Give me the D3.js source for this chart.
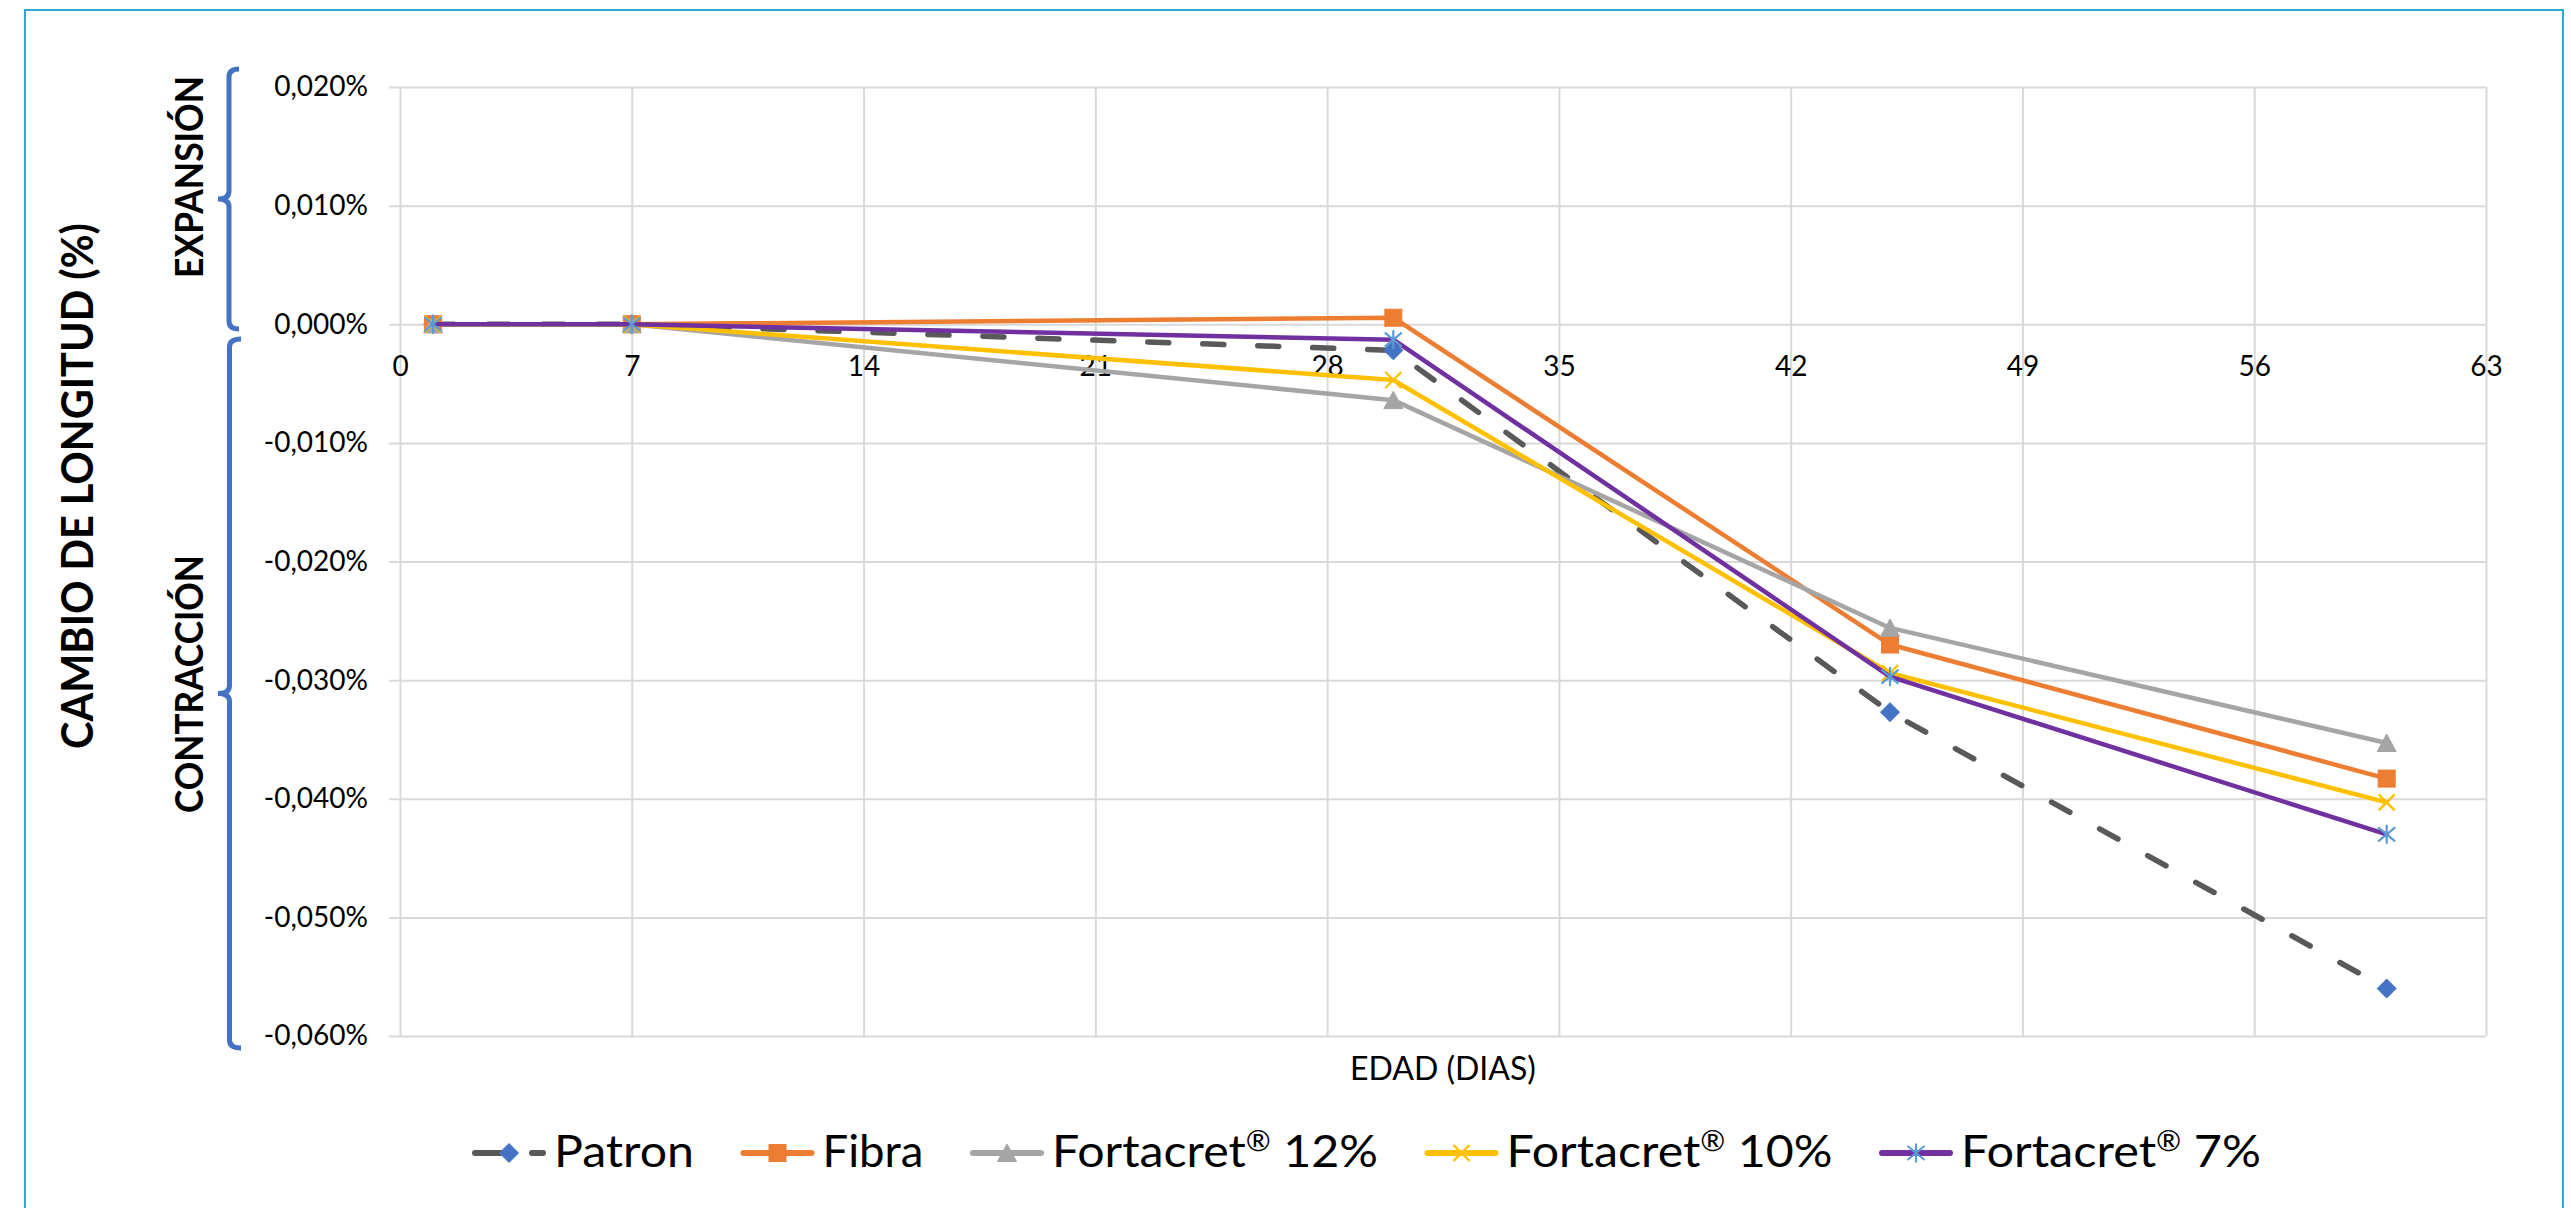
<!DOCTYPE html>
<html>
<head>
<meta charset="utf-8">
<script src="https://cdn.jsdelivr.net/npm/d3@7"></script>
<style>
  html, body { margin: 0; padding: 0; background: #fff; }
  svg { display: block; }
  text { font-family: Lato, "Open Sans", sans-serif; fill: #000; }
</style>
</head>
<body>
<svg id="chart" width="2571" height="1208"></svg>
<script>
// ---- data ----
const days = [1, 7, 30, 45, 60];
const seriesNames = ["Patron", "Fibra", "Fortacret® 12%", "Fortacret® 10%", "Fortacret® 7%"];
const patron = [0, 0, -0.0022, -0.0327, -0.0560];
const fibra = [0, 0, 0.00055, -0.0270, -0.0383];
const fortacret12 = [0, 0, -0.0064, -0.0256, -0.0353];
const fortacret10 = [0, 0, -0.0047, -0.0294, -0.0403];
const fortacret7 = [0, 0, -0.0013, -0.0297, -0.0430];
const xTicks = [0, 7, 14, 21, 28, 35, 42, 49, 56, 63];
const yTicks = [0.02, 0.01, 0, -0.01, -0.02, -0.03, -0.04, -0.05, -0.06];
const xTitle = "EDAD (DIAS)";
const yTitle = "CAMBIO DE LONGITUD (%)";
const zoneLabels = ["EXPANSIÓN", "CONTRACCIÓN"];

// ---- appearance ----
const seriesValues = [patron, fibra, fortacret12, fortacret10, fortacret7];
const styles = [
  { line: "#595959", width: 5.5, dash: "21,34", marker: "diamond", mColor: "#4472c4" },
  { line: "#ed7d31", width: 4.5, dash: null, marker: "square", mColor: "#ed7d31" },
  { line: "#a5a5a5", width: 4.5, dash: null, marker: "triangle", mColor: "#a5a5a5" },
  { line: "#ffc000", width: 4.5, dash: null, marker: "x", mColor: "#ffc000" },
  { line: "#7030a0", width: 4.5, dash: null, marker: "star", mColor: "#5b9bd5" }
];

const svg = d3.select("#chart");
const plotL = 400, plotR = 2486, plotT = 87, plotB = 1036;

// outer frame
svg.append("rect")
  .attr("x", 25).attr("y", 10).attr("width", 2538).attr("height", 1260)
  .attr("fill", "none").attr("stroke", "#2fa8cf").attr("stroke-width", 2);

const x = d3.scaleLinear().domain([0, 63]).range([plotL, plotR]);
const y = d3.scaleLinear().domain([-0.06, 0.02]).range([plotB, plotT]);

const locale = d3.formatLocale({ decimal: ",", thousands: ".", grouping: [3], currency: ["", ""], minus: "-" });
const fmt = locale.format(".3f");

// horizontal gridlines (with outside tick stubs)
svg.append("g")
  .attr("transform", `translate(${plotL - 11},0)`)
  .call(d3.axisLeft(y).tickValues(yTicks).tickSize(-(plotR - plotL + 11)).tickFormat(""))
  .call(g => g.select(".domain").remove())
  .call(g => g.selectAll("line").attr("stroke", "#d9d9d9").attr("stroke-width", 2));

// vertical gridlines
svg.append("g")
  .attr("transform", `translate(0,${plotB})`)
  .call(d3.axisBottom(x).tickValues(xTicks).tickSize(-(plotB - plotT)).tickFormat(""))
  .call(g => g.select(".domain").remove())
  .call(g => g.selectAll("line").attr("stroke", "#d9d9d9").attr("stroke-width", 2));

// y tick labels
svg.append("g")
  .attr("transform", `translate(368,0)`)
  .call(d3.axisLeft(y).tickValues(yTicks).tickSize(0).tickPadding(0).tickFormat(d => fmt(d) + "%"))
  .call(g => g.select(".domain").remove())
  .call(g => g.selectAll("text").attr("font-size", 28).attr("font-family", "Lato, sans-serif").attr("fill", "#000"));

// x tick labels, hung below the zero line
svg.append("g")
  .attr("transform", `translate(0,${y(0)})`)
  .call(d3.axisBottom(x).tickValues(xTicks).tickSize(0).tickPadding(32))
  .call(g => g.select(".domain").remove())
  .call(g => g.selectAll("text").attr("font-size", 28).attr("font-family", "Lato, sans-serif").attr("fill", "#000"));

// x axis title
svg.append("text")
  .attr("x", (plotL + plotR) / 2).attr("y", 1080)
  .attr("text-anchor", "middle").attr("font-size", 32)
  .text(xTitle);

// fit a text element to a target length by horizontal scaling
function fitText(sel, target) {
  const w = sel.node().getComputedTextLength();
  return w > 0 ? target / w : 1;
}

// rotated labels
function rotatedLabel(txt, bx, cy, size, target) {
  const g = svg.append("g");
  const t = g.append("text")
    .attr("text-anchor", "middle").attr("font-size", size).attr("font-weight", 700)
    .text(txt);
  const s = fitText(t, target);
  g.attr("transform", `translate(${bx},${cy}) rotate(-90) scale(${s},1)`);
}
rotatedLabel(yTitle, 93, 486, 43, 526);
rotatedLabel(zoneLabels[0], 203, 177, 39, 202);
rotatedLabel(zoneLabels[1], 203, 684, 39, 258);

// brackets marking expansion / contraction ranges
function bracket(y0, y1, xv, xs, xn) {
  const ym = (y0 + y1) / 2, r = 8;
  const p = d3.path();
  p.moveTo(xs, y0);
  p.quadraticCurveTo(xv, y0, xv, y0 + r);
  p.lineTo(xv, ym - r);
  p.quadraticCurveTo(xv, ym, xn, ym);
  p.quadraticCurveTo(xv, ym, xv, ym + r);
  p.lineTo(xv, y1 - r);
  p.quadraticCurveTo(xv, y1, xs, y1);
  svg.append("path").attr("d", p.toString())
    .attr("fill", "none").attr("stroke", "#4472c4").attr("stroke-width", 5)
    .attr("stroke-linecap", "butt");
}
bracket(69, 329, 229, 239, 218);
bracket(339, 1048, 229.5, 241, 218);

// markers
function drawMarker(g, type, color, cx, cy) {
  const m = g.append("g").attr("transform", `translate(${cx},${cy})`);
  if (type === "diamond") {
    m.append("path").attr("d", "M0,-9.5L9.5,0L0,9.5L-9.5,0Z").attr("fill", color).attr("stroke", color).attr("stroke-width", 1);
  } else if (type === "square") {
    m.append("rect").attr("x", -8.5).attr("y", -8.5).attr("width", 17).attr("height", 17).attr("fill", color).attr("stroke", color).attr("stroke-width", 1);
  } else if (type === "triangle") {
    m.append("path").attr("d", "M0,-9L9.5,8.5L-9.5,8.5Z").attr("fill", color).attr("stroke", color).attr("stroke-width", 1);
  } else if (type === "x") {
    m.append("path").attr("d", "M-8,-8L8,8M-8,8L8,-8").attr("stroke", color).attr("stroke-width", 2.4).attr("fill", "none");
  } else if (type === "star") {
    m.append("path").attr("d", "M0,-9.5L0,9.5M-8.5,-7L8.5,7M-8.5,7L8.5,-7").attr("stroke", color).attr("stroke-width", 2.2).attr("fill", "none");
  }
}

// series
const line = d3.line().x(d => x(d[0])).y(d => y(d[1]));
seriesValues.forEach((vals, i) => {
  const st = styles[i];
  const g = svg.append("g");
  const pts = days.map((d, k) => [d, vals[k]]);
  g.append("path").datum(pts).attr("d", line)
    .attr("fill", "none").attr("stroke", st.line).attr("stroke-width", st.width)
    .attr("stroke-linejoin", "round").attr("stroke-linecap", "round")
    .attr("stroke-dasharray", st.dash);
  pts.forEach(p => drawMarker(g, st.marker, st.mColor, x(p[0]), y(p[1])));
});

// legend
const legendWidths = [140, 101, 326, 326, 300];
const legendY = 1153;
let lx = 472;
seriesNames.forEach((name, i) => {
  const st = styles[i];
  const g = svg.append("g");
  g.append("path").attr("d", `M${lx + 3},${legendY}L${lx + 71},${legendY}`)
    .attr("stroke", st.line).attr("stroke-width", 6).attr("stroke-linecap", "round")
    .attr("stroke-dasharray", st.dash ? "27,30" : null);
  drawMarker(g, st.marker, st.mColor, lx + 37, legendY);
  const tg = g.append("g");
  const t = tg.append("text").attr("font-size", 45).attr("x", 0).attr("y", 0);
  const parts = name.split("®");
  t.append("tspan").text(parts[0]);
  if (parts.length > 1) {
    t.append("tspan").attr("font-size", 28).attr("dy", -16).text("®");
    t.append("tspan").attr("dy", 16).text(parts[1]);
  }
  const s = fitText(t, legendWidths[i]);
  tg.attr("transform", `translate(${lx + 82},${legendY + 14}) scale(${s},1)`);
  lx += 82 + legendWidths[i] + 46.5;
});
</script>
</body>
</html>
